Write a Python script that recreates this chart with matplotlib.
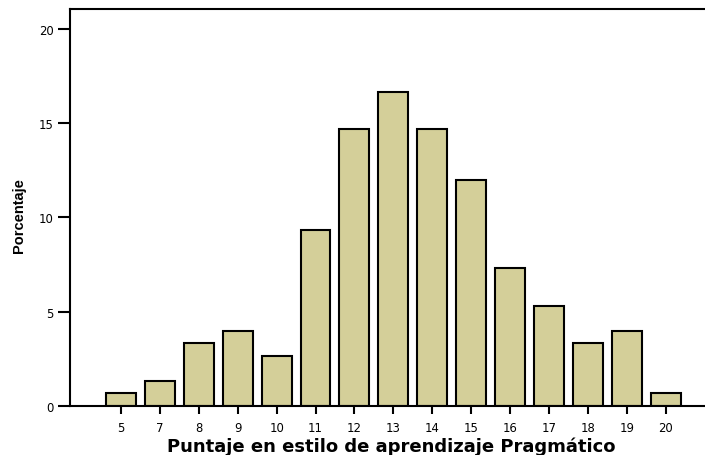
import numpy as np
import matplotlib
matplotlib.use("Agg")
import matplotlib.pyplot as plt

# Datos del histograma (porcentaje por puntaje)
puntajes = ["5", "7", "8", "9", "10", "11", "12", "13", "14", "15", "16", "17", "18", "19", "20"]
porcentajes = [0.67, 1.33, 3.33, 4.0, 2.67, 9.33, 14.67, 16.67, 14.67, 12.0, 7.33, 5.33, 3.33, 4.0, 0.67]
yticks = [0, 5, 10, 15, 20]

bar_color = "#D4CF99"
W, H = 705, 456

fig = plt.figure(figsize=(W / 100, H / 100), dpi=100)
# ejes en pixeles: izquierda 70, arriba 10, abajo 407, derecha al borde
ax = fig.add_axes([70 / W, (H - 407) / H, (W - 70) / W, (407 - 10) / H])

x = np.arange(len(puntajes))
ax.bar(x, porcentajes, width=0.77, color=bar_color, edgecolor="black", linewidth=1.5)

ax.set_xlim(-1.31, 15.01)
ax.set_ylim(0, 21.06)

tick_font = ["DejaVu Sans"]
ax.set_xticks(x)
ax.set_xticklabels(puntajes, family=tick_font, fontsize=8.4)
ax.set_yticks(yticks)
ax.set_yticklabels([str(v) for v in yticks], family=tick_font, fontsize=8.4)

ax.tick_params(axis="x", direction="out", length=6, width=1.5, pad=4.5)
ax.tick_params(axis="y", direction="out", length=8.6, width=1.5, pad=3)

for side in ["left", "top", "bottom"]:
    ax.spines[side].set_linewidth(1.5)
ax.spines["right"].set_visible(False)

# etiquetas de los ejes
fig.text(391 / W, (H - 452) / H, "Puntaje en estilo de aprendizaje Pragmático",
         fontsize=13, fontweight="bold", family=["DejaVu Sans"],
         ha="center", va="baseline")
fig.text(19 / W, (H - 216) / H, "Porcentaje", rotation=90,
         fontsize=10.5, fontweight="bold", family=["Liberation Sans", "DejaVu Sans"],
         ha="center", va="center")

fig.savefig("out.png", dpi=100)
plt.close(fig)
